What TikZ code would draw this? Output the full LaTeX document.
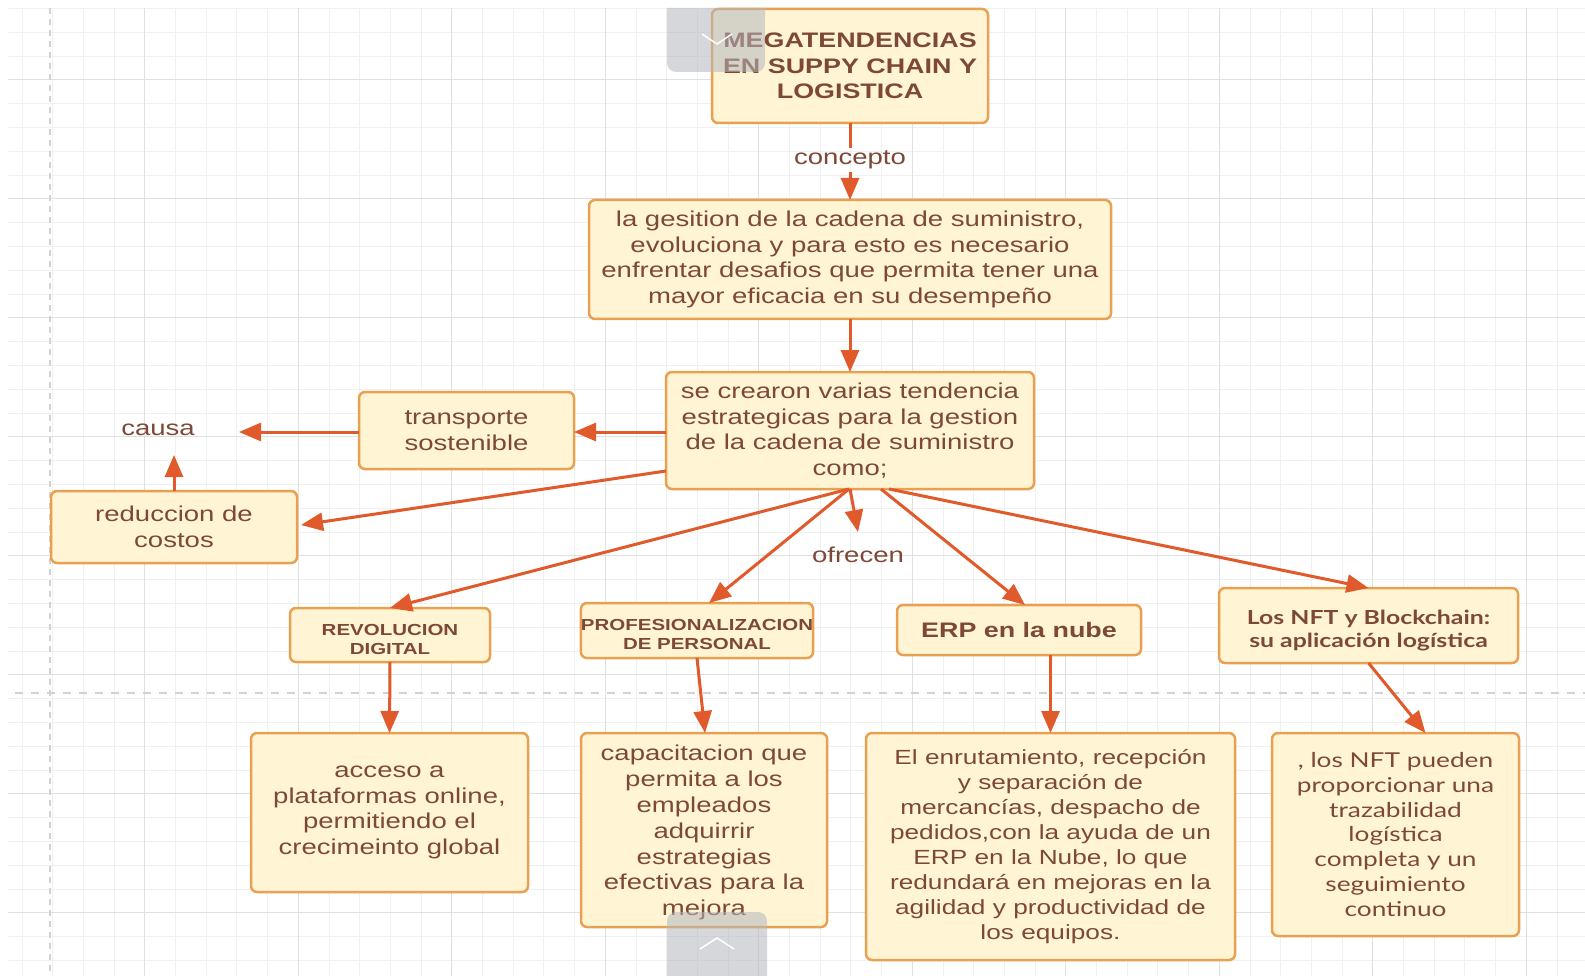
\documentclass[tikz,border=0pt]{standalone}
\usepackage{fontspec}
\setmainfont[FakeStretch=1.28]{Liberation Sans}
\newfontfamily\latofont[FakeStretch=1.28]{Lato}
\usetikzlibrary{arrows.meta,calc}
\definecolor{boxfill}{HTML}{FFF5D5}
\definecolor{boxline}{HTML}{E9A050}
\definecolor{txt}{HTML}{7E4838}
\definecolor{arrowc}{HTML}{E05A2B}
\definecolor{gridminor}{HTML}{F0F0F0}
\definecolor{gridmajor}{HTML}{E0E0E0}
\definecolor{dashc}{HTML}{D2D2D2}
\definecolor{tabgray}{HTML}{B4B7BC}
\begin{document}
\begin{tikzpicture}[x=1pt,y=-1pt,
  box/.style={draw=boxline, fill=boxfill, line width=2.5pt, rounded corners=6pt, text=txt, align=center, inner sep=0pt, outer sep=0pt},
  lbl/.style={text=txt, inner sep=0pt, outer sep=0pt},
  mainf/.style={font=\fontsize{21.5}{25.5}\selectfont},
  boldf/.style={font=\bfseries\fontsize{21}{25.5}\selectfont},
  smallb/.style={font=\bfseries\fontsize{16}{19.5}\selectfont},
  ln/.style={draw=arrowc, line width=3pt},
  arr/.style={draw=arrowc, line width=3pt, -{Triangle[length=22pt,width=18pt]}},
  tab/.style={fill=tabgray, opacity=0.55}
]
\useasboundingbox (0,0) rectangle (1585,976);
\fill[white] (0,0) rectangle (1585,976);
% grid
\foreach \k in {0,...,51} {\pgfmathsetmacro\xx{22+\k*30.7}\draw[gridminor, line width=1pt] (\xx,8) -- (\xx,976);}
\foreach \j in {0,...,40} {\pgfmathsetmacro\yy{8.5+\j*23.8}\draw[gridminor, line width=1pt] (8,\yy) -- (1585,\yy);}
\foreach \k in {4,9,...,49} {\pgfmathsetmacro\xx{22+\k*30.7}\draw[gridmajor, line width=1pt] (\xx,8) -- (\xx,976);}
\foreach \j in {3,8,...,38} {\pgfmathsetmacro\yy{8.5+\j*23.8}\draw[gridmajor, line width=1pt] (8,\yy) -- (1585,\yy);}
\draw[dashc, line width=1.5pt, dash pattern=on 6pt off 5pt] (50,8) -- (50,976);
\draw[dashc, line width=1.5pt, dash pattern=on 8pt off 8pt] (15,693) -- (1585,693);

% nodes
\node[box, boldf, minimum width=276pt, minimum height=114pt] (title) at (850,66) {MEGATENDENCIAS\\EN SUPPY CHAIN Y\\LOGISTICA};
\node[lbl, mainf, minimum height=24pt, text height=15pt, text depth=5pt] (concepto) at (850,160) {concepto};
\node[box, mainf, minimum width=522pt, minimum height=119pt] (box2) at (850,259.5) {la gesition de la cadena de suministro,\\evoluciona y para esto es necesario\\enfrentar desafios que permita tener una\\mayor eficacia en su desempeño};
\node[box, mainf, minimum width=368pt, minimum height=117pt] (box3) at (850,430.5) {se crearon varias tendencia\\estrategicas para la gestion\\de la cadena de suministro\\como;};
\node[box, mainf, minimum width=215pt, minimum height=77pt] (trans) at (466.5,430.5) {transporte\\sostenible};
\node[lbl, mainf, minimum width=162pt, minimum height=50pt] (causa) at (158,430) {causa};
\node[box, mainf, minimum width=246pt, minimum height=72pt] (reduc) at (174,527) {reduccion de\\costos};
\node[lbl, mainf, minimum height=46pt] (ofrecen) at (858,555) {ofrecen};
\node[box, smallb, minimum width=200pt, minimum height=54pt, text height=39.4pt, text depth=0pt] (revol) at (390,635) {REVOLUCION\\DIGITAL};
\node[box, smallb, minimum width=232pt, minimum height=55pt, text height=38.2pt, text depth=0pt] (prof) at (697,630.5) {PROFESIONALIZACION\\DE PERSONAL};
\node[box, boldf, minimum width=244pt, minimum height=50pt] (erp) at (1019,630) {ERP en la nube};
\node[box, font=\latofont\bfseries\fontsize{19.4}{23}\selectfont, minimum width=299pt, minimum height=75pt, text height=47pt, text depth=4pt] (nft) at (1368.5,625.5) {Los NFT y Blockchain:\\su aplicación logística};
\node[box, mainf, minimum width=277pt, minimum height=159pt] (acceso) at (389.5,812.5) {acceso a\\plataformas online,\\permitiendo el\\crecimeinto global};
\node[box, font=\fontsize{21.5}{25.8}\selectfont, minimum width=246pt, minimum height=194pt, text height=176pt, text depth=4.5pt] (capac) at (704,830) {capacitacion que\\permita a los\\empleados\\adquirrir\\estrategias\\efectivas para la\\mejora};
\node[box, font=\fontsize{20.5}{24.9}\selectfont, minimum width=369pt, minimum height=227pt] (enrut) at (1050.5,846.5) {El enrutamiento, recepción\\y separación de\\mercancías, despacho de\\pedidos,con la ayuda de un\\ERP en la Nube, lo que\\redundará en mejoras en la\\agilidad y productividad de\\los equipos.};
\node[box, font=\latofont\fontsize{20.5}{24.8}\selectfont, minimum width=247pt, minimum height=203pt] (nfttxt) at (1395.5,834.5) {, los NFT pueden\\proporcionar una\\trazabilidad\\logística\\completa y un\\seguimiento\\continuo};

% connectors
\draw[ln] (title.south) -- (concepto.north);
\draw[arr] (concepto.south) -- (box2.north);
\draw[arr] (box2.south) -- (box3.north);
\draw[arr] (box3.west |- 0,432) -- (trans.east |- 0,432);
\draw[arr] (trans.west |- 0,432) -- (causa.east |- 0,432);
\draw[arr] (reduc.north) -- (reduc.north |- causa.south);
\draw[arr] ($(box3.south west)+(0,-18)$) -- ($(reduc.east)+(4,-2)$);
\draw[arr] ($(box3.south)+(-1,0)$) -- (revol.north);
\draw[arr] ($(box3.south)+(-1,0)$) -- ($(prof.north)+(12,0)$);
\draw[arr] (box3.south) -- (ofrecen.north);
\draw[arr] ($(box3.south)+(31,0)$) -- ($(erp.north)+(6,0)$);
\draw[arr] ($(box3.south)+(39,0)$) -- (nft.north);
\draw[arr] (revol.south) -- (acceso.north);
\draw[arr] (prof.south) -- ($(capac.north)+(1,0)$);
\draw[arr] (enrut.north |- erp.south) -- (enrut.north);
\draw[arr] (nft.south) -- ($(nfttxt.north)+(30,0)$);

% overlay tabs
\fill[tab] (667,8) -- (765,8) [rounded corners=9pt] -- (765,72) -- (667,72) [sharp corners] -- cycle;
\draw[white, line width=1.5pt] (702,34) -- (717,44) -- (732,34);
\fill[tab] (667,976) [rounded corners=9pt] -- (667,912) -- (767,912) [sharp corners] -- (767,976) -- cycle;
\draw[white, line width=1.5pt] (700,949) -- (717,938) -- (734,949);
\end{tikzpicture}
\end{document}
